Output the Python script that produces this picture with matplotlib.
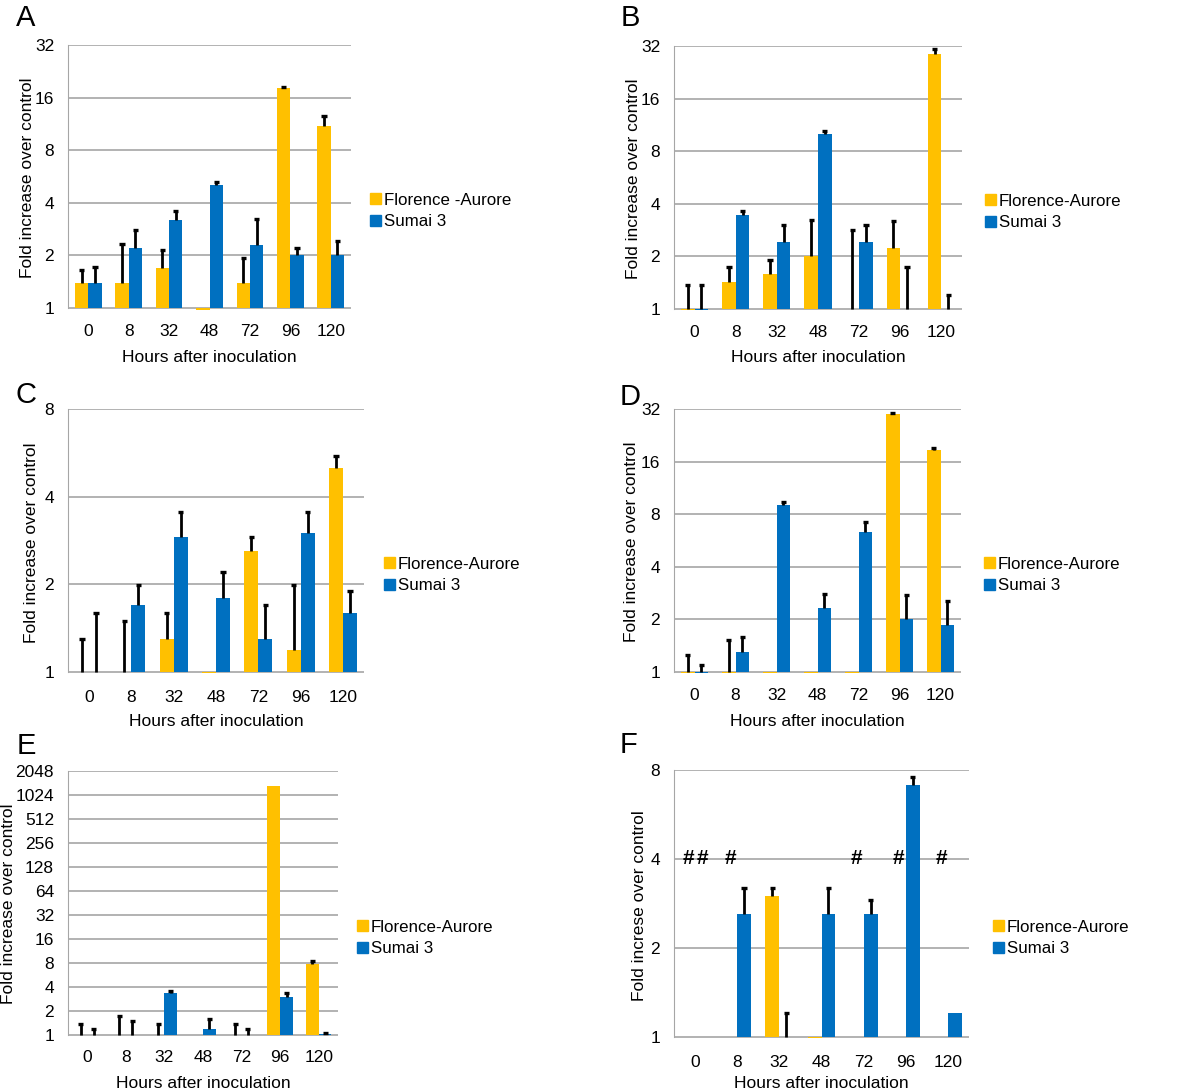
import numpy as np
import matplotlib
matplotlib.use("Agg")
import matplotlib.pyplot as plt
from matplotlib.ticker import NullLocator
from matplotlib.patches import Patch

plt.rcParams['font.family'] = ['Liberation Sans', 'DejaVu Sans']

hours = ['0', '8', '32', '48', '72', '96', '120']
nan = np.nan

# fold change (bar value) and top end of the error bar
A_fa = [1.39, 1.39, 1.70, 0.98, 1.39, 18.1, 10.96]
A_fa_top = [1.64, 2.31, 2.14, nan, 1.93, 18.5, 12.6]
A_su = [1.39, 2.21, 3.19, 5.07, 2.30, 2.0, 2.0]
A_su_top = [1.72, 2.80, 3.60, 5.28, 3.21, 2.21, 2.41]

B_fa = [0.99, 1.43, 1.59, 2.02, 1.0, 2.23, 28.9]
B_fa_top = [1.37, 1.74, 1.90, 3.22, 2.83, 3.17, 30.8]
B_su = [0.99, 3.44, 2.42, 10.06, 2.42, 1.0, 1.0]
B_su_top = [1.37, 3.63, 3.02, 10.5, 3.02, 1.73, 1.21]

C_fa = [1.0, 1.0, 1.30, 0.99, 2.61, 1.19, 5.01]
C_fa_top = [1.30, 1.50, 1.59, nan, 2.91, 1.99, 5.53]
C_su = [1.0, 1.70, 2.91, 1.80, 1.30, 3.01, 1.59]
C_su_top = [1.59, 1.99, 3.53, 2.20, 1.70, 3.53, 1.89]

D_fa = [0.99, 0.99, 0.99, 0.99, 0.99, 29.96, 18.55]
D_fa_top = [1.25, 1.53, nan, nan, nan, 30.5, 19.1]
D_su = [0.99, 1.31, 9.02, 2.32, 6.29, 2.0, 1.86]
D_su_top = [1.09, 1.59, 9.38, 2.81, 7.24, 2.76, 2.56]

E_fa = [0.99, 1.0, 0.99, 0.99, 0.99, 1340, 7.87]
E_fa_top = [1.39, 1.72, 1.39, nan, 1.36, nan, 8.4]
E_su = [0.99, 1.0, 3.40, 1.2, 1.0, 2.97, 1.02]
E_su_top = [1.2, 1.48, 3.6, 1.59, 1.2, 3.40, 1.06]

F_fa = [1.0, 1.0, 3.0, 0.99, 1.0, 1.0, 1.0]
F_fa_top = [nan, nan, 3.20, nan, nan, nan, nan]
F_su = [1.0, 2.60, 1.0, 2.60, 2.60, 7.11, 1.21]
F_su_top = [nan, 3.20, 1.21, 3.20, 2.90, 7.57, nan]

# '#' markers in F: (hour index, series 0=FA 1=SU)
F_hash = [(0, 0), (0, 1), (1, 0), (4, 0), (5, 0), (6, 0)]

yticks_32 = [1, 2, 4, 8, 16, 32]
yticks_8 = [1, 2, 4, 8]
yticks_2048 = [2 ** i for i in range(12)]

yellow = '#FFC000'
blue = '#0070C0'
grid_c = '#A6A6A6'

W, H = 1200, 1090
fig = plt.figure(figsize=(W / 100, H / 100), dpi=100)

bw = 0.33
fs = 12.2


def panel(letter, letter_xy, px, fa, fa_top, su, su_top, yticks, fa_label,
          ylabel, ylab_x, xlab_y, leg_xy):
    left, right, y1, ytop = px
    top = yticks[-1]
    ymin = 0.97
    per = (y1 - ytop) / np.log2(top)
    ybot = y1 + (-np.log2(ymin)) * per
    ax = fig.add_axes([left / W, 1 - ybot / H, (right - left) / W, (ybot - ytop) / H])
    ax.set_yscale('log', base=2)
    x = np.arange(len(hours))
    fa = np.array(fa); su = np.array(su)
    ax.bar(x - bw / 2, fa - 1, bw, bottom=1, color=yellow, zorder=2)
    ax.bar(x + bw / 2, su - 1, bw, bottom=1, color=blue, zorder=2)
    for xs, v, t in [(x - bw / 2, fa, np.array(fa_top)), (x + bw / 2, su, np.array(su_top))]:
        m = ~np.isnan(t)
        ax.vlines(xs[m], np.maximum(v[m], 1), t[m], color='black', lw=2, zorder=3)
        ax.hlines(t[m], xs[m] - 0.065, xs[m] + 0.065, color='black', lw=2.4, zorder=3)
    ax.set_xlim(-0.5, len(hours) - 0.5)
    ax.set_ylim(ymin, top)
    ax.set_xticks(x)
    ax.set_xticklabels(hours)
    ax.set_yticks(yticks)
    ax.set_yticklabels([str(t) for t in yticks])
    ax.yaxis.set_minor_locator(NullLocator())
    ax.tick_params(length=0, labelsize=12.5)
    ax.tick_params(axis='y', pad=10)
    ax.tick_params(axis='x', pad=10)
    for t in yticks:
        ax.axhline(t, color=grid_c, lw=1.2, zorder=1)
    for s in ['top', 'right', 'bottom']:
        ax.spines[s].set_visible(False)
    ax.spines['left'].set_color(grid_c)
    ax.spines['left'].set_bounds(1, top)
    ax.set_ylabel(ylabel, fontsize=12.5)
    ax.set_xlabel('Hours after inoculation', fontsize=12.5)
    ax.yaxis.set_label_coords((ylab_x - left) / (right - left), 0.5)
    ax.xaxis.set_label_coords(0.5, -(xlab_y - ybot) / (ybot - ytop))
    handles = [Patch(color=yellow, label=fa_label), Patch(color=blue, label='Sumai 3')]
    ax.legend(handles=handles, loc='center left', bbox_to_anchor=(leg_xy[0] / W, 1 - leg_xy[1] / H),
              bbox_transform=fig.transFigure, frameon=False, fontsize=fs,
              handlelength=0.65, handleheight=0.65, handletextpad=0.15,
              labelspacing=0.4, borderaxespad=0, borderpad=0)
    fig.text(letter_xy[0] / W, 1 - letter_xy[1] / H, letter, fontsize=21,
             ha='center', va='center')
    return ax


panel('A', (26, 18), (68, 351, 308, 45), A_fa, A_fa_top, A_su, A_su_top,
      yticks_32, 'Florence -Aurore', 'Fold increase over control', 35, 350, (370, 211))
panel('B', (630, 18), (674, 962, 309, 46), B_fa, B_fa_top, B_su, B_su_top,
      yticks_32, 'Florence-Aurore', 'Fold increase over control', 641, 350, (985, 212))
panel('C', (26, 395), (68, 364, 672, 409), C_fa, C_fa_top, C_su, C_su_top,
      yticks_8, 'Florence-Aurore', 'Fold increase over control', 39, 714, (384, 575))
panel('D', (630, 397), (674, 961, 672, 409), D_fa, D_fa_top, D_su, D_su_top,
      yticks_32, 'Florence-Aurore', 'Fold increase over control', 639, 714, (984, 575))
panel('E', (26, 746), (68, 338, 1035, 771), E_fa, E_fa_top, E_su, E_su_top,
      yticks_2048, 'Florence-Aurore', 'Fold increase over control', 16, 1076, (357, 938))
axF = panel('F', (628, 745), (674, 969, 1037, 770), F_fa, F_fa_top, F_su, F_su_top,
            yticks_8, 'Florence-Aurore', 'Fold increse over control', 647, 1076, (993, 938))

for i, s in F_hash:
    xs = i - bw / 2 if s == 0 else i + bw / 2
    axF.text(xs, 4, '#', ha='center', va='center', fontsize=15, fontweight='bold',
             family=['Liberation Sans', 'DejaVu Sans'], zorder=4)

fig.savefig('out.png', dpi=100, facecolor='white')
